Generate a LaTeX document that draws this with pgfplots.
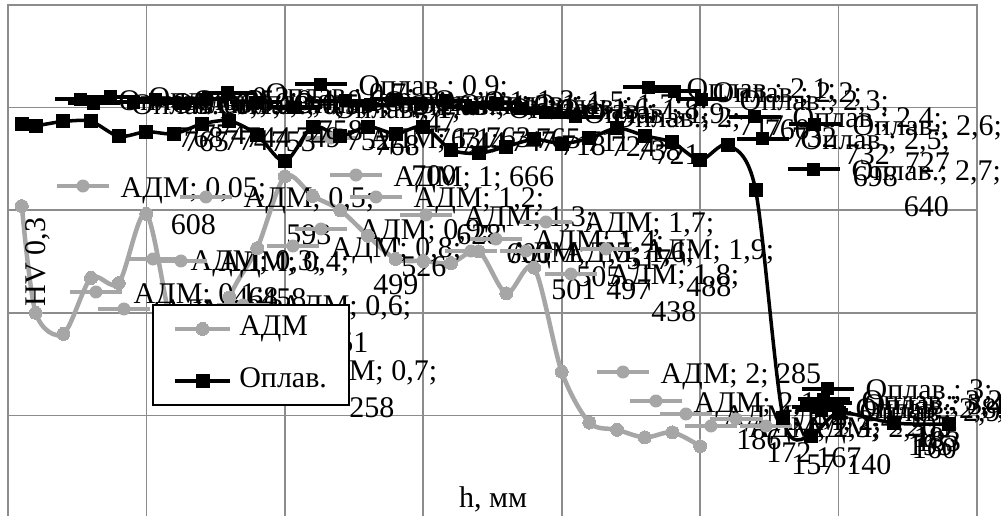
\documentclass[border=0pt]{standalone}
\usepackage{pgfplots}
\pgfplotsset{compat=1.18}
\usepackage{fontspec}
\setmainfont{Liberation Serif}
\definecolor{admc}{RGB}{166,166,166}
\definecolor{gridc}{RGB}{140,140,140}
\newcommand{\fs}{\fontsize{30}{37}\selectfont}
\newcommand{\gkey}{\tikz[baseline={(0,-11pt)}]{\draw[admc,line width=3.5pt](0pt,0pt)--(52pt,0pt);\fill[admc](26pt,0pt)circle(6.5pt);}}
\newcommand{\bkey}{\tikz[baseline={(0,-11pt)}]{\draw[black,line width=3.5pt](0pt,0pt)--(52pt,0pt);\fill[black](19.5pt,-6.5pt)rectangle(32.5pt,6.5pt);}}
\tikzset{lab/.style={anchor=base west,inner sep=0pt,font=\fs}}
% label: text-left px, first baseline py, text, value
\newcommand{\GL}[4]{\node[lab] at ({(#1-70)*3.5/969},{(518-#2)*1000/513}) {\gkey\hspace{10pt}\begin{tabular}[t]{@{}c@{}}#3\\#4\end{tabular}};}
\newcommand{\GS}[3]{\node[lab] at ({(#1-70)*3.5/969},{(518-#2)*1000/513}) {\gkey\hspace{10pt}#3};}
\newcommand{\BL}[4]{\node[lab] at ({(#1-70)*3.5/969},{(518-#2)*1000/513}) {\bkey\hspace{10pt}\begin{tabular}[t]{@{}c@{}}#3\\#4\end{tabular}};}
\begin{document}
\begin{tikzpicture}
\begin{axis}[
  at={(8pt,-3pt)}, anchor=south west, scale only axis,
  width=969pt, height=513pt,
  xmin=0, xmax=3.5, ymin=0, ymax=1000,
  xtick={0,0.5,...,3.5}, ytick={0,200,...,1000},
  xticklabels={}, yticklabels={}, major tick length=0pt,
  grid=major, major grid style={gridc,line width=1.6pt},
  axis line style={gridc,line width=1.6pt},
  clip=false,
  legend cell align=left,
  legend image code/.code={\draw[mark repeat=2,mark phase=2,#1] plot coordinates {(0pt,0pt) (27.5pt,0pt) (55pt,0pt)};},
  legend style={at={(0.1486,0.417)}, anchor=north west, draw=black, line width=1.6pt, fill=white,
    font=\fs, inner xsep=20pt, inner ysep=7pt, row sep=18pt,
    nodes={text height=22pt, text depth=8pt, inner sep=2pt},
    /tikz/every odd column/.style={column sep=5pt}},
]
\addplot[admc, line width=4.5pt, smooth, mark=*, mark size=6.5pt, mark options={fill=admc,draw=admc,line width=0pt}] coordinates {
(0.05,608) (0.1,400) (0.2,359) (0.3,468) (0.4,458) (0.5,593) (0.6,351) (0.7,258) (0.8,430) (0.9,526)
(1.0,666) (1.1,628) (1.2,600) (1.3,550) (1.4,505) (1.5,501) (1.6,497) (1.7,520) (1.8,438) (1.9,488)
(2.0,285) (2.1,186) (2.2,172) (2.3,157) (2.4,167) (2.5,140)};
\addlegendentry{АДМ}
\addplot[black, line width=3.5pt, smooth, mark=square*, mark size=6.5pt, mark options={fill=black,draw=black,line width=0pt}] coordinates {
(0.05,769) (0.1,765) (0.2,773) (0.3,773) (0.4,744) (0.5,753) (0.6,749) (0.7,768) (0.8,774) (0.9,747)
(1.0,695) (1.1,763) (1.2,744) (1.3,763) (1.4,749) (1.5,763) (1.6,718) (1.7,711) (1.8,724) (1.9,738)
(2.0,730) (2.1,740) (2.2,760) (2.3,745) (2.4,732) (2.5,698) (2.6,727) (2.7,640) (2.8,195) (2.9,160)
(3.0,205) (3.2,185) (3.4,183)};
\addlegendentry{Оплав.}
% grey labels
\GL{117}{197}{АДМ; 0,05;}{608}
\GL{240}{208}{АДМ; 0,5;}{593}
\GL{187}{270}{АДМ; 0,3;}{468}
\GL{215}{272}{АДМ; 0,4;}{458}
\GL{130}{303}{АДМ; 0,1;}{400}
\GL{158}{320}{АДМ; 0,2;}{359}
\GL{277}{316}{АДМ; 0,6;}{351}
\GL{303}{380}{АДМ; 0,7;}{258}
\GL{327}{257}{АДМ; 0,8;}{499}
\GL{355}{240}{АДМ; 0,9;}{526}
\GL{365}{149}{АДМ; 1,1;}{700}
\GS{390}{186}{АДМ; 1; 666}
\GL{410}{208}{АДМ; 1,2;}{628}
\GL{460}{226}{АДМ; 1,3;}{600}
\GL{530}{250}{АДМ; 1,4;}{505}
\GL{505}{262}{АДМ; 1,5;}{501}
\GL{560}{262}{АДМ; 1,6;}{497}
\GL{580}{233}{АДМ; 1,7;}{517}
\GL{605}{285}{АДМ; 1,8;}{438}
\GL{640}{260}{АДМ; 1,9;}{488}
\GS{657}{383}{АДМ; 2; 285}
\GL{690}{412}{АДМ; 2,1;}{186}
\GL{720}{425}{АДМ; 2,2;}{172}
\GL{745}{437}{АДМ; 2,3;}{157}
\GL{770}{430}{АДМ; 2,4;}{167}
\GL{800}{437}{АДМ; 2,5;}{140}
% black labels
\BL{115}{110}{Оплав.; 0,05;}{768}
\BL{128}{114}{Оплав.; 0,1;}{765}
\BL{145}{108}{Оплав.; 0,2;}{774}
\BL{168}{113}{Оплав.; 0,3;}{774}
\BL{190}{110}{Оплав.; 0,4;}{744}
\BL{215}{114}{Оплав.; 0,5;}{753}
\BL{240}{110}{Оплав.; 0,6;}{749}
\BL{262}{104}{Оплав.; 0,7;}{758}
\BL{290}{113}{Оплав.; 0,8;}{752}
\BL{330}{118}{Оплав.; 1;}{768}
\BL{355}{95}{Оплав.; 0,9;}{747}
\BL{380}{112}{Оплав.; 1,1;}{763}
\BL{405}{116}{Оплав.; 1,2;}{744}
\BL{430}{110}{Оплав.; 1,3;}{763}
\BL{455}{114}{Оплав.; 1,4;}{747}
\BL{480}{112}{Оплав.; 1,5;}{765}
\BL{505}{118}{Оплав.; 1,6;}{718}
\BL{530}{114}{Оплав.; 1,7;}{711}
\BL{555}{120}{Оплав.; 1,8;}{724}
\BL{580}{124}{Оплав.; 1,9;}{738}
\BL{610}{128}{Оплав.; 2;}{721}
\BL{683}{98}{Оплав.; 2,1;}{717}
\BL{709}{102}{Оплав.; 2,2;}{760}
\BL{736}{110}{Оплав.; 2,3;}{732}
\BL{789}{128}{Оплав.; 2,4;}{732}
\BL{797}{150}{Оплав.; 2,5;}{698}
\BL{849}{135}{Оплав.; 2,6;}{727}
\BL{848}{180}{Оплав.; 2,7;}{640}
\BL{862}{400}{Оплав.; 3;}{205}
\BL{852}{418}{Оплав.; 2,8;}{195}
\BL{856}{421}{Оплав.; 2,9;}{160}
\BL{858}{410}{Оплав.; 3,2;}{185}
\BL{860}{414}{Оплав.; 3,4;}{183}
\node[font=\fs, anchor=base] at ({(493-8)*3.5/969},{(518-507)*1000/513}) {h, мм};
\node[font=\fs, anchor=base, rotate=90] at ({(45-8)*3.5/969},{(518-262)*1000/513}) {HV 0,3};
\end{axis}
\pgfresetboundingbox
\useasboundingbox (0pt,0pt) rectangle (1001pt,515pt);
\end{tikzpicture}
\end{document}
